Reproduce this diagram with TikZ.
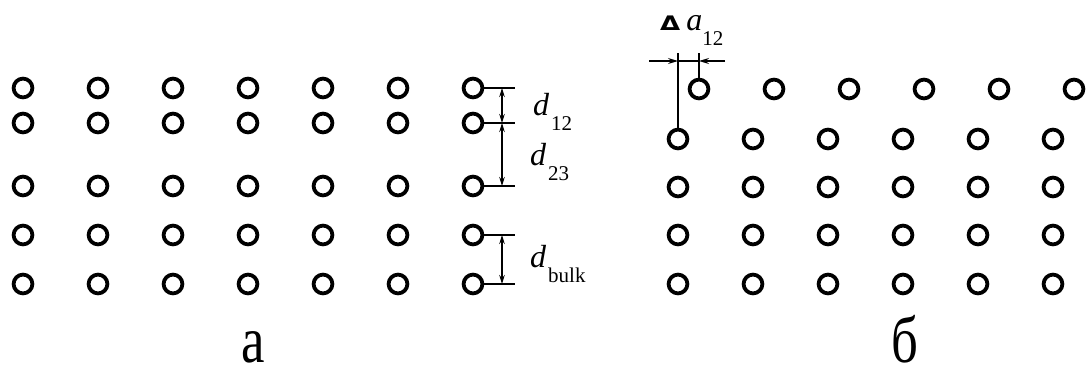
\documentclass[tikz,border=0pt]{standalone}
\usepackage{fontspec}
\setmainfont{Liberation Serif}
\setsansfont{Liberation Sans}
\newfontfamily\deltafont{DejaVu Sans}
\usetikzlibrary{arrows.meta,positioning}
\newcommand{\lowidx}[1]{\raisebox{-15pt}{\upshape\fontsize{21}{21}\selectfont #1}}

\begin{document}
\begin{tikzpicture}[x=1pt,y=-1pt,
        atom/.style={circle,draw,line width=3.8pt,minimum size=18.8pt,inner sep=0pt},
        dimline/.style={line width=1.3pt},
        arr/.style={-{Stealth[length=10pt,width=6pt]},line width=1.3pt},
        dimarr/.style={{Stealth[length=9pt,width=5.5pt]}-{Stealth[length=9pt,width=5.5pt]},line width=1.3pt},
        lbl/.style={anchor=base west,inner sep=0pt,font=\fontsize{32}{32}\selectfont\itshape},
        panel/.style={anchor=base,inner sep=0pt,font=\fontsize{66}{66}\selectfont}
      ]
        \useasboundingbox (0,0) rectangle (1088,369);
        \foreach \y [count=\r] in {88,123,186,235,284}
          \foreach \c in {1,...,7}
            \node[atom] (a-\r-\c) at ({23+75*(\c-1)},\y) {};
        \foreach \c in {1,...,6}
          \node[atom] (b-1-\c) at ({699+75*(\c-1)},89) {};
        \foreach \y [count=\r from 2] in {139,187,235,284}
          \foreach \c in {1,...,6}
            \node[atom] (b-\r-\c) at ({678+75*(\c-1)},\y) {};
        \foreach \y [count=\r] in {88,123,186,235,284}{
          \coordinate (t\r) at (515,\y);
          \coordinate (v\r) at (502,\y);
          \draw[dimline] (a-\r-7.east) -- (t\r);
        }
        \draw[dimarr] (v1) -- (v2);
        \draw[dimarr] (v2) -- (v3);
        \draw[dimarr] (v4) -- (v5);
        \node[lbl] (d12) at (533,115) {d\hspace{2pt}\lowidx{12}};
        \node[lbl] (d23) at (530,165) {d\hspace{2pt}\lowidx{23}};
        \node[lbl] (dbulk) at (530,267) {d\hspace{2pt}\lowidx{bulk}};
        \coordinate (h1) at (649,61);
        \coordinate (h2) at (725,61);
        \coordinate (u1) at (678,53);
        \coordinate (u2) at (699,53);
        \draw[dimline] (b-2-1.north) -- (u1);
        \draw[dimline] (b-1-1.north) -- (u2);
        \draw[arr] (h1) -- (u1 |- h1);
        \draw[arr] (h2) -- (u2 |- h1);
        \draw[dimline] (u1 |- h1) -- (u2 |- h1);
        \node[lbl] (da12) at (660,31) {\scalebox{1.3}[1]{\upshape\deltafont\bfseries\fontsize{20}{20}\selectfont Δ}\hspace{6pt}a\lowidx{12}};
        \node[panel] (pa) at (253,362) {\scalebox{0.8}[1]{а}};
        \node[panel] (pb) at (905,362) {\scalebox{0.8}[1]{б}};
      \end{tikzpicture}
\end{document}
